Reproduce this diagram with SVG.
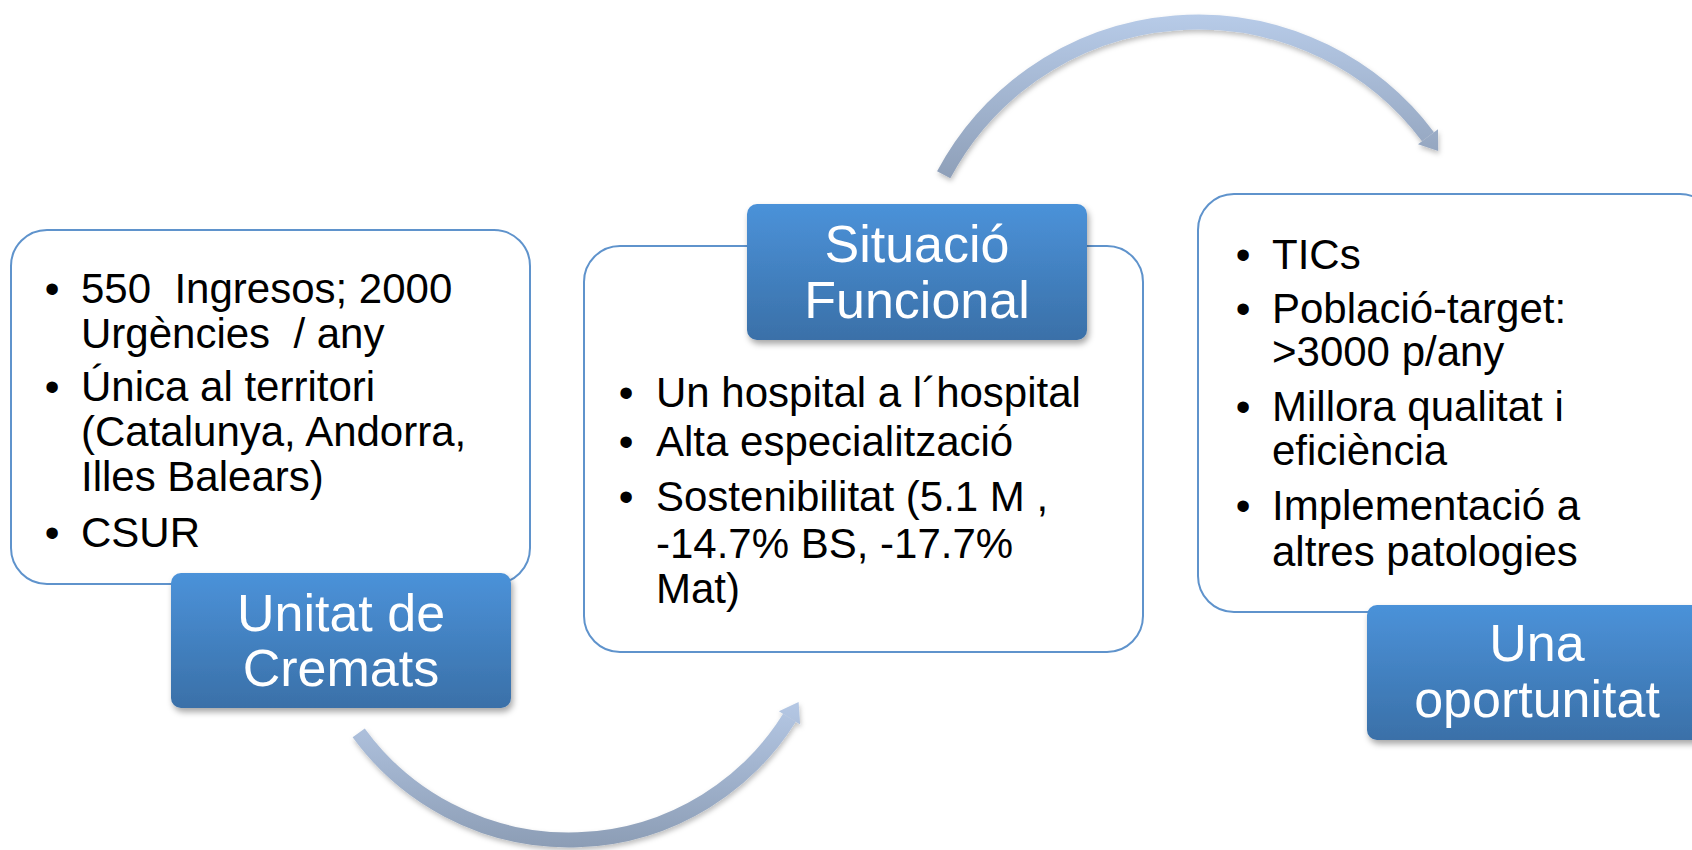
<svg xmlns="http://www.w3.org/2000/svg" width="1692" height="850" viewBox="0 0 1692 850">
<defs>
<linearGradient id="lblGrad" x1="0" y1="0" x2="0" y2="1">
<stop offset="0" stop-color="#4b92d9"/>
<stop offset="1" stop-color="#3a70a8"/>
</linearGradient>
<linearGradient id="arrTop" gradientUnits="userSpaceOnUse" x1="0" y1="15" x2="0" y2="180">
<stop offset="0" stop-color="#b7cbe8"/>
<stop offset="1" stop-color="#8e9fb8"/>
</linearGradient>
<linearGradient id="arrBot" gradientUnits="userSpaceOnUse" x1="0" y1="700" x2="0" y2="848">
<stop offset="0" stop-color="#b5c8e5"/>
<stop offset="1" stop-color="#8c9db5"/>
</linearGradient>
<filter id="shadow" x="-10%" y="-10%" width="130%" height="140%">
<feDropShadow dx="2" dy="4" stdDeviation="3" flood-color="#000" flood-opacity="0.35"/>
</filter>
<filter id="ashadow" x="-10%" y="-10%" width="130%" height="140%">
<feDropShadow dx="1" dy="3" stdDeviation="2.5" flood-color="#000" flood-opacity="0.25"/>
</filter>
</defs>
<style>
.box{fill:#ffffff;stroke:#5f93cc;stroke-width:2}
.lbl{fill:url(#lblGrad);filter:url(#shadow)}
.lt{font-family:"Liberation Sans",Arial,sans-serif;font-size:52px;fill:#ffffff;text-anchor:middle}
.bt{font-family:"Liberation Sans",Arial,sans-serif;font-size:42px;fill:#000000}
.bu{font-family:"Liberation Sans",Arial,sans-serif;font-size:42px;fill:#000000;text-anchor:middle}
</style>
<rect width="1692" height="850" fill="#ffffff"/>

<g id="connectors">
<g id="arrow-bottom" filter="url(#ashadow)">
<path d="M 358.7 732.8 A 260 260 0 0 0 789.5 717.8" fill="none" stroke="url(#arrBot)" stroke-width="15"/>
<polygon points="800.1,724.4 778.9,711.2 798.6,702.1" fill="url(#arrBot)"/>
</g>
<g id="arrow-top" filter="url(#ashadow)">
<path d="M 943.7 174.8 A 288 288 0 0 1 1428 136.7" fill="none" stroke="url(#arrTop)" stroke-width="15"/>
<polygon points="1438,129.2 1418,144.2 1438.2,151.1" fill="url(#arrTop)"/>
</g>
</g>

<g id="node-unitat">
<rect class="box" x="11" y="230" width="519" height="354" rx="36"/>
<text class="bu" x="52" y="303">•</text>
<text class="bt" x="81" y="303" xml:space="preserve">550  Ingresos; 2000</text>
<text class="bt" x="81" y="348" xml:space="preserve">Urgències  / any</text>
<text class="bu" x="52" y="401">•</text>
<text class="bt" x="81" y="401">Única al territori</text>
<text class="bt" x="81" y="446">(Catalunya, Andorra,</text>
<text class="bt" x="81" y="491">Illes Balears)</text>
<text class="bu" x="52" y="547">•</text>
<text class="bt" x="81" y="547">CSUR</text>
<rect class="lbl" x="171" y="573" width="340" height="135" rx="10"/>
<text class="lt" x="341" y="631">Unitat de</text>
<text class="lt" x="341" y="686">Cremats</text>
</g>

<g id="node-situacio">
<rect class="box" x="584" y="246" width="559" height="406" rx="36"/>
<rect class="lbl" x="747" y="204" width="340" height="136" rx="10"/>
<text class="lt" x="917" y="262">Situació</text>
<text class="lt" x="917" y="318">Funcional</text>
<text class="bu" x="626" y="407">•</text>
<text class="bt" x="656" y="407">Un hospital a l´hospital</text>
<text class="bu" x="626" y="456">•</text>
<text class="bt" x="656" y="456">Alta especialització</text>
<text class="bu" x="626" y="511">•</text>
<text class="bt" x="656" y="511">Sostenibilitat (5.1 M ,</text>
<text class="bt" x="656" y="558">-14.7% BS, -17.7%</text>
<text class="bt" x="656" y="603">Mat)</text>
</g>

<g id="node-oportunitat">
<rect class="box" x="1198" y="194" width="518" height="418" rx="36"/>
<text class="bu" x="1243" y="269">•</text>
<text class="bt" x="1272" y="269">TICs</text>
<text class="bu" x="1243" y="323">•</text>
<text class="bt" x="1272" y="323">Població-target:</text>
<text class="bt" x="1272" y="366">&gt;3000 p/any</text>
<text class="bu" x="1243" y="421">•</text>
<text class="bt" x="1272" y="421">Millora qualitat i</text>
<text class="bt" x="1272" y="465">eficiència</text>
<text class="bu" x="1243" y="520">•</text>
<text class="bt" x="1272" y="520">Implementació a</text>
<text class="bt" x="1272" y="566">altres patologies</text>
<rect class="lbl" x="1367" y="605" width="340" height="135" rx="10"/>
<text class="lt" x="1537" y="661">Una</text>
<text class="lt" x="1537" y="717">oportunitat</text>
</g>
</svg>
